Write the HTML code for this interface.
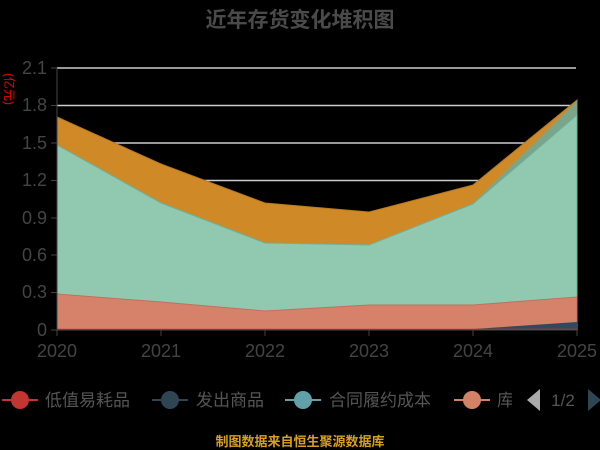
<!DOCTYPE html>
<html><head><meta charset="utf-8"><style>
html,body{margin:0;padding:0;background:#000;width:600px;height:450px;overflow:hidden}
svg text{font-family:"Liberation Sans","Noto Sans CJK SC",sans-serif}
</style></head><body>
<svg width="600" height="450" xmlns="http://www.w3.org/2000/svg">
<rect width="600" height="450" fill="#000"/>
<text x="300" y="27" text-anchor="middle" font-size="21" font-weight="bold" fill="#4a4a4a">近年存货变化堆积图</text>
<g stroke="#ccc" stroke-width="1.5">
<line x1="57" y1="68" x2="576" y2="68"/><line x1="57" y1="105.5" x2="576" y2="105.5"/>
<line x1="57" y1="143" x2="576" y2="143"/><line x1="57" y1="180.5" x2="576" y2="180.5"/>
<line x1="57" y1="218" x2="576" y2="218"/><line x1="57" y1="255" x2="576" y2="255"/>
<line x1="57" y1="292.5" x2="576" y2="292.5"/>
</g>
<polygon points="57,117 161,164 265,203 369,212 473,185 577,100 577,330 57,330" fill="#cf8a27" stroke="#b87a20"/>
<polygon points="57,145 161,203 265,243 369,245 473,203 577,101 577,330 57,330" fill="#7aa58a"/>
<polygon points="57,145 161,203 265,243 369,245 473,204 577,115 577,330 57,330" fill="#91c9b0" stroke="#6fb09a"/>
<polygon points="57,294 161,302 265,311 369,305 473,305 577,297 577,330 57,330" fill="#d6826a" stroke="#c07060"/>
<polygon points="473,329 577,322 577,330 473,330" fill="#2f4a5e"/>
<line x1="57" y1="329.5" x2="577" y2="329.5" stroke="#c23531" stroke-width="1.5"/>
<g stroke="#444" stroke-width="1">
<line x1="57" y1="68" x2="57" y2="330"/><line x1="51" y1="330" x2="577" y2="330"/>
<line x1="51" y1="68" x2="57" y2="68"/><line x1="51" y1="105.5" x2="57" y2="105.5"/><line x1="51" y1="143" x2="57" y2="143"/><line x1="51" y1="180.5" x2="57" y2="180.5"/><line x1="51" y1="218" x2="57" y2="218"/><line x1="51" y1="255" x2="57" y2="255"/><line x1="51" y1="292.5" x2="57" y2="292.5"/>
<line x1="57" y1="330" x2="57" y2="336"/><line x1="161" y1="330" x2="161" y2="336"/><line x1="265" y1="330" x2="265" y2="336"/><line x1="369" y1="330" x2="369" y2="336"/><line x1="473" y1="330" x2="473" y2="336"/><line x1="577" y1="330" x2="577" y2="336"/>
</g>
<g font-size="18" fill="#444" text-anchor="end">
<text x="47" y="74">2.1</text><text x="47" y="111">1.8</text><text x="47" y="149">1.5</text><text x="47" y="186">1.2</text><text x="47" y="224">0.9</text><text x="47" y="261">0.6</text><text x="47" y="298">0.3</text><text x="47" y="336">0</text>
</g>
<g font-size="18" fill="#444" text-anchor="middle">
<text x="57" y="357">2020</text><text x="161" y="357">2021</text><text x="265" y="357">2022</text><text x="369" y="357">2023</text><text x="473" y="357">2024</text><text x="577" y="357">2025</text>
</g>
<text transform="translate(5,89) rotate(90)" font-size="12" fill="#e00" text-anchor="middle">(亿元)</text>
<g font-size="17" fill="#555">
<line x1="2" y1="400" x2="38" y2="400" stroke="#c23531" stroke-width="2"/><circle cx="20" cy="400" r="9" fill="#c23531"/>
<text x="45" y="406">低值易耗品</text>
<line x1="152" y1="400" x2="188" y2="400" stroke="#2f4554" stroke-width="2"/><circle cx="170" cy="400" r="9" fill="#2f4554"/>
<text x="196" y="406">发出商品</text>
<line x1="285" y1="400" x2="321" y2="400" stroke="#61a0a8" stroke-width="2"/><circle cx="303" cy="400" r="9" fill="#61a0a8"/>
<text x="329" y="406">合同履约成本</text>
<line x1="454" y1="400" x2="490" y2="400" stroke="#d48265" stroke-width="2"/><circle cx="472" cy="400" r="9" fill="#d48265"/>
<text x="497" y="406">库</text>
</g>
<rect x="512" y="385" width="16" height="30" fill="#000"/>
<polygon points="540,389 540,411 527,400" fill="#aaa"/>
<text x="563" y="406" font-size="17" fill="#555" text-anchor="middle">1/2</text>
<polygon points="588,389 588,411 601,400" fill="#2f4554"/>
<text x="300" y="446" font-size="13" fill="#d9a020" text-anchor="middle" font-weight="bold">制图数据来自恒生聚源数据库</text>
</svg>
</body></html>
